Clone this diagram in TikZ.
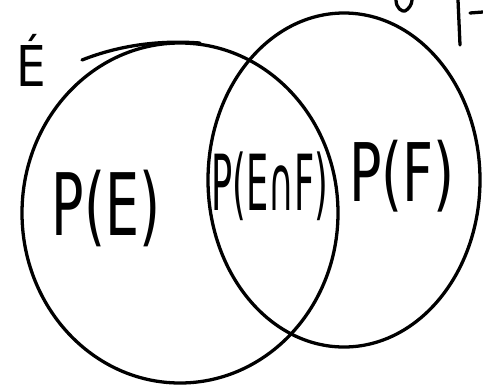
\documentclass[tikz,border=0pt]{standalone}
\usepackage{fontspec}
\setmainfont{DejaVu Sans}
\newcommand{\tallText}[2][1.5]{\scalebox{1}[#1]{#2}}
\begin{document}
\begin{tikzpicture}[x=0.03cm,y=-0.03cm,
  hand/.style={black, line width=2.8pt, line cap=round, line join=round},
  lbl/.style={font=\fontsize{46}{46}\selectfont, inner sep=0pt}]
\useasboundingbox (0,0) rectangle (483,387);
% the two sets
\draw[hand] (180,213) ellipse [x radius=158, y radius=170];
\draw[hand] (344,180) ellipse [x radius=136, y radius=167];
% overlapping stroke ends
\draw[hand] (82,60) .. controls (120,45) and (160,40) .. (200,43);
\draw[hand] (396,0) .. controls (396,8) and (402,12) .. (405,11)
  .. controls (409,9) and (412,4) .. (412,0);
% cut-off strokes at the top
\draw[hand] (458,0) -- (460,45);
\draw[hand] (470,13) -- (483,12);
% labels
\node[lbl, font=\fontsize{40}{40}\selectfont] (labE) at (31,60) {\tallText[1.2]{É}};
\node[lbl] (pE) at (106,208) {\tallText[1.6]{P(E)}};
\node[lbl, font=\fontsize{30}{30}\selectfont] (pEF) at (270,186) {\tallText[2.2]{P(E∩F)}};
\node[lbl] (pF) at (402,176) {\tallText[1.5]{P(F)}};
\end{tikzpicture}
\end{document}
